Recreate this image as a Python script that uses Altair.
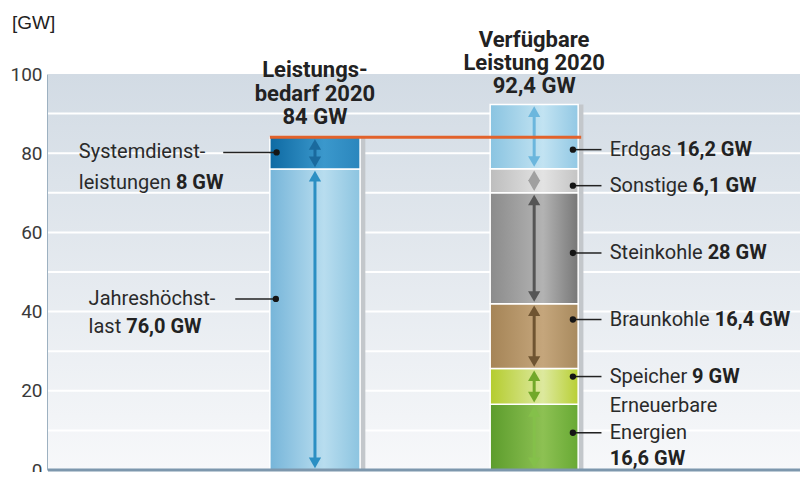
import altair as alt
import pandas as pd

# ---------------- data ----------------
bars = ["Leistungsbedarf 2020", "Verfügbare Leistung 2020"]
demand_segments = ["Jahreshöchstlast", "Systemdienstleistungen"]
demand_values = [76.0, 8.0]
supply_segments = ["Erneuerbare Energien", "Speicher", "Braunkohle", "Steinkohle", "Sonstige", "Erdgas"]
supply_values = [16.6, 9.0, 16.4, 28.0, 6.1, 16.2]
demand_total = 84.0
grid_values = [10, 20, 30, 40, 50, 60, 70, 80, 90]
axis_values = [0, 20, 40, 60, 80, 100]
demand_title = ["Leistungs-", "bedarf 2020", "84 GW"]
supply_title = ["Verfügbare", "Leistung 2020", "92,4 GW"]

# ---------------- layout / style ----------------
PX_PER_UNIT = 752 / 100.0
FONT = "Roboto"
bar_left = [29.5, 58.8]
bar_right = [41.5, 70.5]
shadow_w = 0.7
seg_style = {
    "Jahreshöchstlast": (["#76b5d9", "#b8ddef", "#8cc4e0"], "#2b8fc3"),
    "Systemdienstleistungen": (["#0e6aa3", "#3b98cc", "#2a86bd"], "#1a6a9e"),
    "Erneuerbare Energien": (["#5c9c2c", "#8dc153", "#68a934"], "#84c04a"),
    "Speicher": (["#b4cc2e", "#dde99e", "#b8cf35"], "#72a82a"),
    "Braunkohle": (["#a58456", "#c5a67c", "#a88a5e"], "#6f5431"),
    "Steinkohle": (["#8b8b8b", "#b3b3b3", "#777777"], "#555555"),
    "Sonstige": (["#bdbdbd", "#e3e3e3", "#c4c4c4"], "#a0a0a0"),
    "Erdgas": (["#8ac4e1", "#c2e3f2", "#92c8e4"], "#6bb6dd"),
}

# build segment table
rows = []
for bi, (names, vals) in enumerate([(demand_segments, demand_values), (supply_segments, supply_values)]):
    lo = 0.0
    for n, v in zip(names, vals):
        rows.append(dict(bar=bars[bi], segment=n, lo=lo, hi=lo + v,
                         x0=bar_left[bi], x1=bar_right[bi],
                         xc=(bar_left[bi] + bar_right[bi]) / 2))
        lo += v
seg = pd.DataFrame(rows)
tops = seg.groupby("bar", sort=False)["hi"].max().tolist()

shadow = pd.DataFrame(dict(x0=bar_right, x1=[r + shadow_w for r in bar_right], lo=[0, 0], hi=tops))

xs = alt.Scale(domain=[0, 100], nice=False, zero=False)
ys = alt.Scale(domain=[0, 100], nice=False, zero=False)

layers = []

# background
bg_df = pd.DataFrame(dict(x0=[0], x1=[100], y0=[0], y1=[100]))
bg = alt.Chart(bg_df).mark_rect(
    fill=alt.LinearGradient(gradient="linear",
                            stops=[alt.GradientStop(color="#d2dbe4", offset=0),
                                   alt.GradientStop(color="#f7f8fa", offset=1)],
                            x1=0, x2=0, y1=0, y2=1)
).encode(x=alt.X("x0:Q", scale=xs, axis=None), x2="x1:Q",
         y=alt.Y("y0:Q", scale=ys,
                 axis=alt.Axis(values=axis_values, grid=False, ticks=False, title=None,
                               domainColor="#7d97ad", domainWidth=2.5,
                               labelFont=FONT, labelFontSize=19, labelColor="#3a3a3a",
                               labelPadding=6)),
         y2="y1:Q")
layers.append(bg)

grid = alt.Chart(pd.DataFrame(dict(y=grid_values))).mark_rule(color="white", strokeWidth=2).encode(
    y="y:Q", x=alt.value(0), x2=alt.value(752))
layers.append(grid)

layers.append(alt.Chart(shadow).mark_rect(color="#c3c7cb").encode(
    x="x0:Q", x2="x1:Q", y="lo:Q", y2="hi:Q"))

# segments with gradients
for name, (stops, _) in seg_style.items():
    grad = alt.LinearGradient(gradient="linear",
                              stops=[alt.GradientStop(color=stops[0], offset=0),
                                     alt.GradientStop(color=stops[1], offset=0.6),
                                     alt.GradientStop(color=stops[2], offset=1)],
                              x1=0, x2=1, y1=0, y2=0)
    layers.append(alt.Chart(seg).transform_filter(alt.datum.segment == name).mark_rect(
        fill=grad, stroke="white", strokeWidth=1.5).encode(
        x="x0:Q", x2="x1:Q", y="lo:Q", y2="hi:Q"))

# arrows
for name, (_, acol) in seg_style.items():
    base = alt.Chart(seg).transform_filter(alt.datum.segment == name).transform_calculate(
        a0="datum.lo + 1.8", a1="datum.hi - 1.8")
    layers.append(base.mark_rule(color=acol, strokeWidth=3).encode(x="xc:Q", y="a0:Q", y2="a1:Q"))
    layers.append(base.mark_point(shape="triangle-down", filled=True, size=150, opacity=1,
                                  color=acol).encode(x="xc:Q", y="a0:Q"))
    layers.append(base.mark_point(shape="triangle-up", filled=True, size=150, opacity=1,
                                  color=acol).encode(x="xc:Q", y="a1:Q"))

# demand line
layers.append(alt.Chart(pd.DataFrame(dict(x0=[bar_left[0]], x1=[bar_right[1] + 0.4], y=[demand_total])))
              .mark_rule(color="#e2622b", strokeWidth=3).encode(x="x0:Q", x2="x1:Q", y="y:Q"))

# baseline
layers.append(alt.Chart(pd.DataFrame(dict(x0=[0], x1=[100], y=[0]))).mark_rule(
    color="#7d97ad", strokeWidth=3).encode(x="x0:Q", x2="x1:Q", y="y:Q"))

# labels
lines = [
    ("Systemdienst-", "", 4.1, 80.2),
    ("leistungen ", "8 GW", 4.1, 72.4),
    ("Jahreshöchst-", "", 5.4, 43.2),
    ("last ", "76,0 GW", 5.4, 36.2),
    ("Erdgas ", "16,2 GW", 74.7, 80.9),
    ("Sonstige ", "6,1 GW", 74.7, 71.8),
    ("Steinkohle ", "28 GW", 74.7, 54.8),
    ("Braunkohle ", "16,4 GW", 74.7, 38.0),
    ("Speicher ", "9 GW", 74.7, 23.6),
    ("Erneuerbare", "", 74.7, 16.1),
    ("Energien", "", 74.7, 9.4),
    ("", "16,6 GW", 74.7, 2.8),
]
leaders = [(23.3, 30.4, 80.2), (24.9, 30.3, 43.2)] + [
    (69.8, 73.6, y) for y in [80.9, 71.8, 54.8, 38.0, 23.6, 9.4]]

W = {" ": .248, "a": .544, "b": .561, "c": .523, "d": .564, "e": .530, "g": .561, "h": .551,
     "i": .243, "k": .507, "l": .243, "n": .552, "o": .570, "p": .561, "r": .338, "s": .516,
     "t": .327, "u": .551, "E": .568, "S": .594, "B": .622}


def tw(s, size=20):
    return sum(W.get(c, .55) for c in s) * size


reg_df = pd.DataFrame([dict(t=r, x=x, y=y) for r, b, x, y in lines if r])
bold_df = pd.DataFrame([dict(t=b, x=x + tw(r) / PX_PER_UNIT, y=y) for r, b, x, y in lines if b])
lead_df = pd.DataFrame([dict(x0=a, x1=b, y=y) for a, b, y in leaders])

layers.append(alt.Chart(lead_df).mark_rule(color="#222222", strokeWidth=1.5).encode(
    x="x0:Q", x2="x1:Q", y="y:Q"))
# dots sit at the bar-side end of each leader
dots_df = pd.DataFrame([dict(x=(b if a < 50 else a), y=y) for a, b, y in leaders])
layers.append(alt.Chart(dots_df).mark_circle(color="#151515", size=40, opacity=1).encode(
    x="x:Q", y="y:Q"))

layers.append(alt.Chart(reg_df).mark_text(font=FONT, fontSize=20, align="left", baseline="middle",
                                          color="#2a2a2a").encode(x="x:Q", y="y:Q", text="t:N"))
layers.append(alt.Chart(bold_df).mark_text(font=FONT, fontSize=20, fontWeight="bold", align="left",
                                           baseline="middle", color="#222222").encode(
    x="x:Q", y="y:Q", text="t:N"))

title_df = pd.DataFrame(
    [dict(t=t, x=(bar_left[0] + bar_right[0]) / 2, y=y) for t, y in zip(demand_title, [100.9, 95.0, 89.1])] +
    [dict(t=t, x=(bar_left[1] + bar_right[1]) / 2, y=y) for t, y in zip(supply_title, [108.7, 102.8, 96.9])])
layers.append(alt.Chart(title_df).mark_text(font=FONT, fontSize=22, fontWeight="bold", align="center",
                                            baseline="middle", color="#222222").encode(
    x="x:Q", y="y:Q", text="t:N"))

unit_df = pd.DataFrame(dict(t=["[GW]"], x=[-4.8], y=[113.0]))
layers.append(alt.Chart(unit_df).mark_text(font="Liberation Sans", fontSize=19, align="left",
                                           baseline="middle", color="#222222").encode(
    x="x:Q", y="y:Q", text="t:N"))

chart = alt.layer(*layers).properties(
    width=752, height=396,
    padding={"left": 40, "top": 66, "right": 0, "bottom": 2},
    autosize=alt.AutoSizeParams(type="none"),
    background="white",
).configure_view(strokeWidth=0)

chart.save("out.html", embed_options={"renderer": "svg", "actions": False})
